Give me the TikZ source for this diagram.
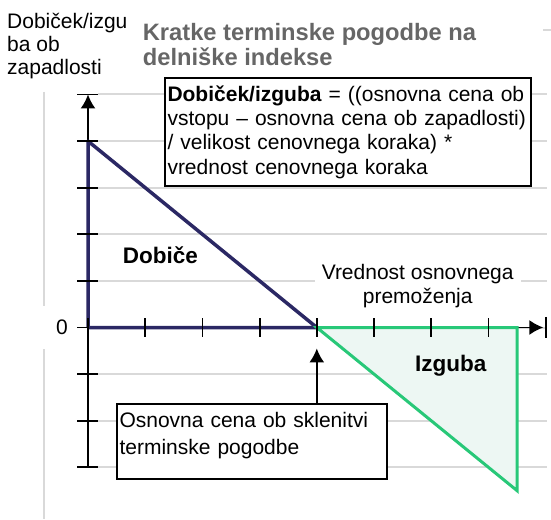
\documentclass[tikz,border=0pt]{standalone}
\usepackage{fontspec}
\setmainfont{Liberation Sans}
\usetikzlibrary{arrows.meta}
\definecolor{mynavy}{RGB}{43,40,100}
\definecolor{mygreen}{RGB}{40,200,120}
\definecolor{mylightgreen}{RGB}{237,247,243}
\definecolor{mygrid}{RGB}{217,217,217}
\definecolor{mytitle}{RGB}{102,102,102}

\begin{document}
\begin{tikzpicture}[x=57.2pt, y=46.6pt, >={Latex[length=14pt,width=15pt]},
	gridline/.style={color=mygrid, line width=2pt},
	axtick/.style={line width=1.8pt},
	lbl/.style={font=\fontsize{21}{24}\selectfont, inner sep=0pt},
	boldlbl/.style={font=\fontsize{22.5}{26}\selectfont\bfseries, inner sep=0pt},
	textbox/.style={draw, line width=2pt, fill=white, align=left, anchor=north west, inner xsep=2.5pt, inner ysep=7.5pt}]
			\useasboundingbox (-1.5385,7.0279) rectangle (8.0944,-4.1094);
			
			% Light grid behind the chart
			\draw[gridline] (0.175,5) -- (8.024,5) (0.175,4) -- (8.024,4) (0.175,3) -- (8.024,3) (0.175,2) -- (8.024,2) (0.175,1) -- (8.024,1) (0.175,0) -- (8.024,0) (0.175,-1) -- (8.024,-1) (0.175,-2) -- (8.024,-2) (0.175,-3) -- (8.024,-3);
			\draw[gridline] (-0.769,5.054) -- (-0.769,-4.11);
			\draw[gridline] (7.955,6.384) -- (8.1,6.384);
			\node[lbl, fill=white, minimum width=40pt, minimum height=43pt] (zero) at (-0.455,0) {0};
			
			% Axes
			\draw[->, line width=1.6pt] (0,-3) -- (0,5);
			\draw[->, line width=1.6pt] (0,0) -- (7.96,0);
			\draw[axtick] (8,0.23) -- (8,-0.23);
			
			% Profit and loss areas
			\draw[color=mynavy, line width=3.5pt, line join=round] (0,4) -- (0,0) -- (4,0) -- cycle;
			\filldraw[draw=mygreen, fill=mylightgreen, line width=3pt] (4,0) -- (7.5,0) -- (7.5,-3.5) -- cycle;
			
			% Ticks on both axes
			\draw[axtick] (-0.19,5) -- (0.18,5) (-0.19,4) -- (0.18,4) (-0.19,3) -- (0.18,3) (-0.19,2) -- (0.18,2) (-0.19,1) -- (0.18,1) (-0.19,0) -- (0,0) (-0.19,-1) -- (0.18,-1) (-0.19,-2) -- (0.18,-2) (-0.19,-3) -- (0.18,-3);
			\draw[axtick] (0,0.2) -- (0,-0.2) (1,0.2) -- (1,-0.2) (2,0.2) -- (2,-0.2) (3,0.2) -- (3,-0.2) (4,0.2) -- (4,-0.2) (5,0.2) -- (5,-0.2) (6,0.2) -- (6,-0.2) (7,0.2) -- (7,-0.2);
			
			% Labels
			\node[lbl, anchor=north west, align=left, font=\fontsize{21}{23}\selectfont] (ylabel) at (-1.416,6.755) {Dobiček/izgu\\ba ob\\zapadlosti};
			\node[anchor=north west, align=left, inner sep=0pt, color=mytitle, font=\fontsize{23.7}{25}\selectfont\bfseries] (title) at (0.956,6.535) {Kratke terminske pogodbe na\\delniške indekse};
			\node[boldlbl, anchor=base] (profit) at (1.264,1.378) {Dobiče};
			\node[boldlbl, anchor=base] (loss) at (6.341,-0.948) {Izguba};
			\node[lbl, anchor=north, align=center, fill=white, inner xsep=7pt, inner ysep=1pt, font=\fontsize{21}{24.3}\selectfont] (xlabel) at (5.764,1.391) {Vrednost osnovnega\\premoženja};
			
			% Formula and entry price boxes
			\node[textbox, text width=361pt, font=\fontsize{21}{24.2}\selectfont] (formula) at (1.3287,5.369) {\textbf{Dobiček/izguba} = ((osnovna cena ob\\vstopu – osnovna cena ob zapadlosti)\\/ velikost cenovnega koraka) *\\vrednost cenovnega koraka};
			\node[textbox, text width=265pt, font=\fontsize{21}{27.3}\selectfont] (entry) at (0.4895,-1.627) {Osnovna cena ob sklenitvi\\terminske pogodbe\rule[-16.8pt]{0pt}{16.8pt}};
			\coordinate (tip) at (4,-0.45);
			\draw[->, line width=1.6pt] (entry.north -| tip) -- (tip);
			\end{tikzpicture}
\end{document}
